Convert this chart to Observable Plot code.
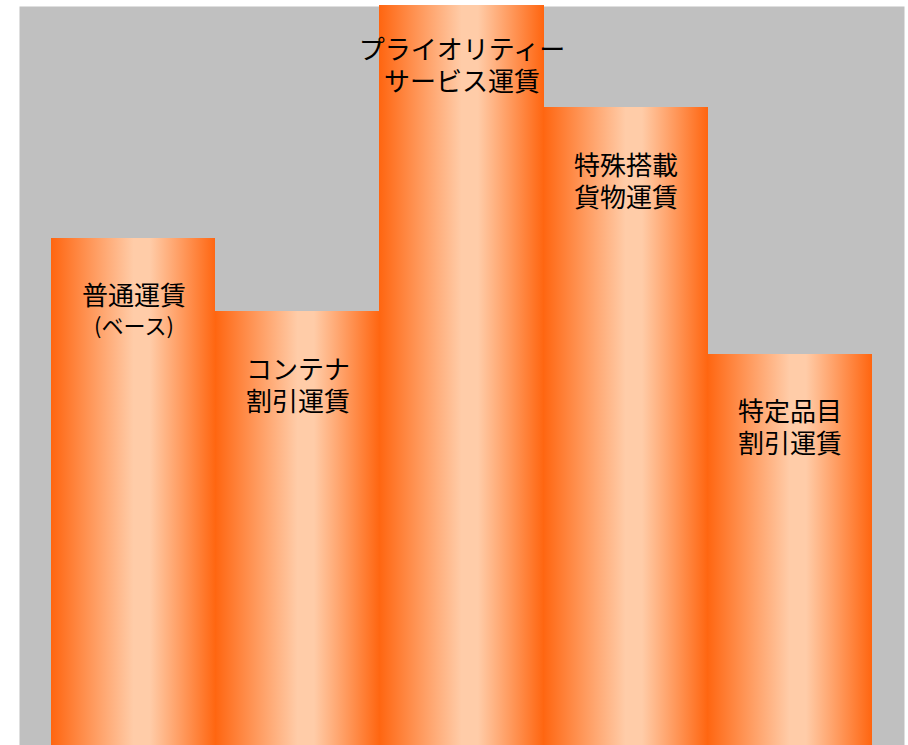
<!DOCTYPE html>
<html>
<head>
<meta charset="utf-8">
<script src="https://cdn.jsdelivr.net/npm/d3@7"></script>
<script src="https://cdn.jsdelivr.net/npm/@observablehq/plot@0.6"></script>
<style>
  html, body { margin: 0; padding: 0; background: #ffffff; }
  #chart { width: 908px; height: 745px; }
  text { font-family: "Noto Sans CJK JP", "Noto Sans", sans-serif; }
</style>
</head>
<body>
<div id="chart"></div>
<script>
// Categories (fare types)
const categories = ["普通運賃", "コンテナ割引運賃", "プライオリティーサービス運賃", "特殊搭載貨物運賃", "特定品目割引運賃"];
// Relative fare level (普通運賃 = 100)
const values = [100, 85.6, 148.8, 125.9, 77.2];
// Label lines
const labelLine1 = ["普通運賃", "コンテナ", "プライオリティー", "特殊搭載", "特定品目"];
const labelLine2 = ["(ベース)", "割引運賃", "サービス運賃", "貨物運賃", "割引運賃"];

const data = categories.map((c, i) => ({category: c, value: values[i], l1: labelLine1[i], l2: labelLine2[i]}));

function gradientDefs() {
  const ns = "http://www.w3.org/2000/svg";
  const defs = document.createElementNS(ns, "defs");
  const g = document.createElementNS(ns, "linearGradient");
  g.setAttribute("id", "barGrad");
  g.setAttribute("x1", "0"); g.setAttribute("x2", "1");
  g.setAttribute("y1", "0"); g.setAttribute("y2", "0");
  [[0, "#ff6611"], [0.5, "#ffcca8"], [0.6, "#ffcca8"], [1, "#ff6611"]].forEach(([o, c]) => {
    const s = document.createElementNS(ns, "stop");
    s.setAttribute("offset", o);
    s.setAttribute("stop-color", c);
    g.appendChild(s);
  });
  defs.appendChild(g);
  return defs;
}

const main = data.filter(d => d.l2 !== "(ベース)");
const base = data.filter(d => d.l2 === "(ベース)");

const chart = Plot.plot({
  width: 908,
  height: 745,
  marginTop: 5,
  marginLeft: 19,
  marginRight: 4,
  marginBottom: 0,
  style: {background: "transparent", fontFamily: "'Noto Sans CJK JP', sans-serif"},
  x: {domain: categories, paddingInner: 0, paddingOuter: 0.198, round: false, axis: null},
  y: {domain: [0, 146], axis: null},
  marks: [
    gradientDefs,
    Plot.frame({fill: "#c0c0c0", stroke: null, insetTop: 1}),
    Plot.barY(data, {x: "category", y: "value", fill: "url(#barGrad)", clip: true, shapeRendering: "crispEdges"}),
    Plot.text(main, {x: "category", y: "value", text: d => d.l1 + "\n" + d.l2, dy: 73, lineHeight: 1.23, fontSize: 26, fill: "black", lineAnchor: "middle"}),
    Plot.text(base, {x: "category", y: "value", text: "l1", dy: 58, fontSize: 26, fill: "black", lineAnchor: "middle"}),
    Plot.text(base, {x: "category", y: "value", text: "l2", dy: 88, fontSize: 22, fill: "black", lineAnchor: "middle"})
  ]
});
document.getElementById("chart").appendChild(chart);
</script>
</body>
</html>
